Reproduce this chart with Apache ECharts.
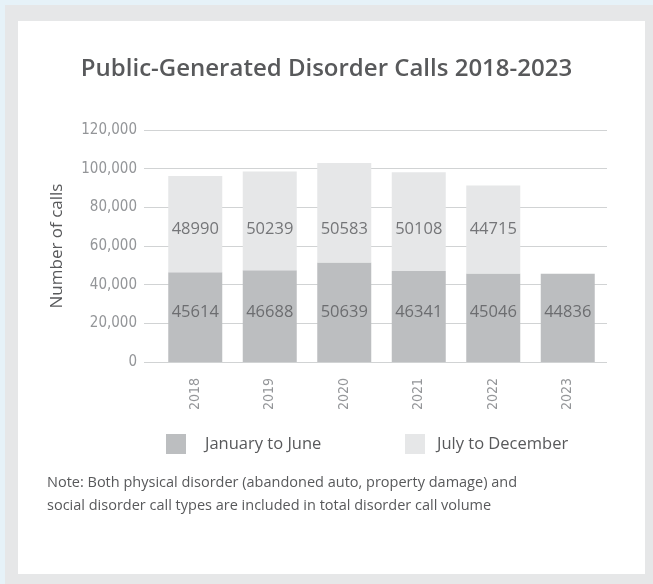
<!DOCTYPE html>
<html><head><meta charset="utf-8">
<script src="https://cdn.jsdelivr.net/npm/echarts@6/dist/echarts.min.js"></script>
<style>html,body{margin:0;padding:0;background:#e6e7e8;}#c{width:653px;height:584px;}</style>
</head><body><div id="c"></div>
<script>
const years = ['2018','2019','2020','2021','2022','2023'];
const janToJune = [45614, 46688, 50639, 46341, 45046, 44836];
const julToDec = [48990, 50239, 50583, 50108, 44715, null];
const yTicks = [0, 20000, 40000, 60000, 80000, 100000, 120000];
const titleText = 'Public-Generated Disorder Calls 2018-2023';
const noteLines = ['Note: Both physical disorder (abandoned auto, property damage) and', 'social disorder call types are included in total disorder call volume'];

const TXT = '#58595b';
const NARROW = '"DejaVu Sans Condensed", "Liberation Sans Narrow", Roboto, sans-serif';
const chart = echarts.init(document.getElementById('c'));
const yMax = yTicks[yTicks.length-1];
const barMax = 118000;      // bar scale as drawn in the reference
const topLabelY = 67500;    // fixed label rows
const botLabelY = 25400;
function labelRow(vals, yv){
  return {type:'scatter', xAxisIndex:1, yAxisIndex:1, symbolSize:0, silent:true,
    data: vals.map((v,i)=> v==null ? null : {value:[years[i], yv], v:v}).filter(d=>d),
    label:{show:true, position:'inside', formatter:p=>String(p.data.v), color:TXT, fontFamily:'Open Sans', fontSize:16.5}};
}
chart.setOption({
  animation:false,
  backgroundColor:'#e6e7e8',
  title:{text:titleText, left:'center', top:52, textStyle:{fontFamily:'Open Sans', fontWeight:600, fontSize:24, color:TXT}},
  graphic:[
    {type:'rect', z:-10, shape:{x:0,y:0,width:653,height:5}, style:{fill:'#e6f2f8'}},
    {type:'rect', z:-10, shape:{x:0,y:0,width:5,height:584}, style:{fill:'#e6f2f8'}},
    {type:'rect', z:-9, shape:{x:18,y:21,width:627,height:553}, style:{fill:'#ffffff'}},
    {type:'rect', shape:{x:166,y:434,width:20,height:20}, style:{fill:'#bcbec0'}},
    {type:'text', x:205, y:444, style:{text:'January to June', fill:TXT, font:'16.5px "Open Sans"', textVerticalAlign:'middle'}},
    {type:'rect', shape:{x:405,y:434,width:20,height:20}, style:{fill:'#e6e7e8'}},
    {type:'text', x:437, y:444, style:{text:'July to December', fill:TXT, font:'16.5px "Open Sans"', textVerticalAlign:'middle'}},
    {type:'text', x:47, y:483, style:{text:noteLines[0], fill:TXT, font:'14.5px "Open Sans"', textVerticalAlign:'middle'}},
    {type:'text', x:47, y:506, style:{text:noteLines[1], fill:TXT, font:'14.5px "Open Sans"', textVerticalAlign:'middle'}}
  ],
  grid:[
    {left:144, right:46, top:130, height:232},
    {left:158, right:48, top:130, height:232}
  ],
  xAxis:[
    {gridIndex:0, type:'category', data:years, show:false},
    {gridIndex:1, type:'category', data:years, axisLine:{show:false}, axisTick:{show:false},
     axisLabel:{rotate:90, margin:16, color:'#939598', fontFamily:NARROW, fontSize:14}}
  ],
  yAxis:[
    {gridIndex:0, type:'value', min:0, max:yMax, interval:20000,
     name:'Number of calls', nameLocation:'middle', nameGap:78, nameRotate:90,
     nameTextStyle:{color:TXT, fontFamily:'Open Sans', fontSize:17},
     axisLine:{show:false}, axisTick:{show:false},
     axisLabel:{margin:7, color:'#939598', fontFamily:NARROW, fontSize:15,
       formatter:v=>v.toLocaleString('en-US')},
     splitLine:{lineStyle:{color:'#d1d3d4', width:1}}},
    {gridIndex:1, type:'value', min:0, max:barMax, show:false, splitLine:{show:false}}
  ],
  series:[
    {name:'January to June', type:'bar', stack:'a', xAxisIndex:1, yAxisIndex:1, data:janToJune, barWidth:54,
     itemStyle:{color:'#bcbec0'}},
    {name:'July to December', type:'bar', stack:'a', xAxisIndex:1, yAxisIndex:1, data:julToDec, barWidth:54,
     itemStyle:{color:'#e6e7e8'}},
    labelRow(julToDec, topLabelY),
    labelRow(janToJune, botLabelY)
  ]
});
</script></body></html>
